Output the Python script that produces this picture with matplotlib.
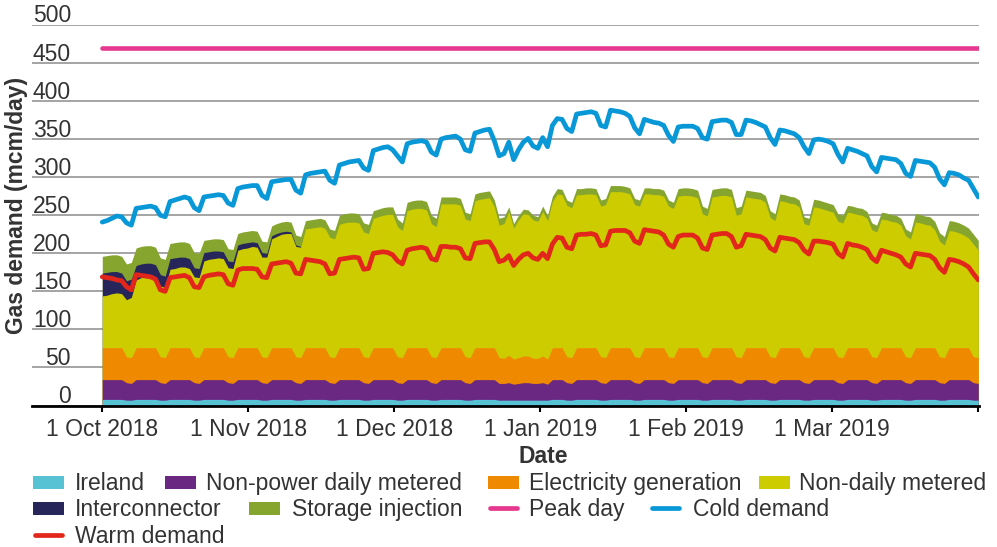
import numpy as np
import matplotlib
matplotlib.use("Agg")
import matplotlib.pyplot as plt
import matplotlib.transforms as mtransforms
from matplotlib.patches import Rectangle
from matplotlib.lines import Line2D

plt.rcParams['font.family'] = ['Liberation Sans', 'DejaVu Sans']

# ---------------- data (daily, 1 Oct 2018 - 31 Mar 2019, mcm/day) ----------------
month_labels = ['1 Oct 2018', '1 Nov 2018', '1 Dec 2018', '1 Jan 2019',
                '1 Feb 2019', '1 Mar 2019', '']
y_ticks = [0, 50, 100, 150, 200, 250, 300, 350, 400, 450, 500]

ireland = [
    8, 8, 8, 8, 8, 7, 7,
    8, 8, 8, 8, 8, 7, 7,
    8, 8, 8, 8, 8, 7, 7,
    8, 8, 8, 8, 8, 7, 7,
    8, 8, 8, 8, 8, 7, 7,
    8, 8, 8, 8, 8, 7, 7,
    8, 8, 8, 8, 8, 7, 7,
    8, 8, 8, 8, 8, 7, 7,
    8, 8, 8, 8, 8, 7, 7,
    8, 8, 8, 8, 8, 7, 7,
    8, 8, 8, 8, 8, 7, 7,
    8, 8, 8, 8, 8, 7, 7,
    7, 7, 7, 7, 7, 7, 7,
    7, 7, 8, 8, 8, 7, 7,
    8, 8, 8, 8, 8, 7, 7,
    8, 8, 8, 8, 8, 7, 7,
    8, 8, 8, 8, 8, 7, 7,
    8, 8, 8, 8, 8, 7, 7,
    8, 8, 8, 8, 8, 7, 7,
    8, 8, 8, 8, 8, 7, 7,
    8, 8, 8, 8, 8, 7, 7,
    8, 8, 8, 8, 8, 7, 7,
    8, 8, 8, 8, 8, 7, 7,
    8, 8, 8, 8, 8, 7, 7,
    8, 8, 8, 8, 8, 7, 7,
    8, 8, 8, 8, 8, 7, 7,
]

non_power_dm = [
    26, 26, 26, 26, 26, 23, 22,
    26, 26, 26, 26, 26, 23, 22,
    26, 26, 26, 26, 26, 23, 22,
    26, 26, 26, 26, 26, 23, 22,
    26, 26, 26, 26, 26, 23, 22,
    26, 26, 26, 26, 26, 23, 22,
    26, 26, 26, 26, 26, 23, 22,
    26, 26, 26, 26, 26, 23, 22,
    26, 26, 26, 26, 26, 23, 22,
    26, 26, 26, 26, 26, 23, 22,
    26, 26, 26, 26, 26, 23, 22,
    26, 26, 26, 26, 26, 22, 22,
    23, 21, 22, 23, 23, 22, 22,
    23, 21, 26, 26, 26, 23, 22,
    26, 26, 26, 26, 26, 23, 22,
    26, 26, 26, 26, 26, 23, 22,
    26, 26, 26, 26, 26, 23, 22,
    26, 26, 26, 26, 26, 23, 22,
    26, 26, 26, 26, 26, 23, 22,
    26, 26, 26, 26, 26, 23, 22,
    26, 26, 26, 26, 26, 23, 22,
    26, 26, 26, 26, 26, 23, 22,
    26, 26, 26, 26, 26, 23, 22,
    26, 26, 26, 26, 26, 23, 22,
    26, 26, 26, 26, 26, 23, 22,
    26, 26, 26, 26, 26, 23, 22,
]

electricity = [
    42, 42, 42, 42, 42, 34, 34,
    42, 42, 42, 42, 42, 34, 34,
    42, 42, 42, 42, 42, 34, 34,
    42, 42, 42, 42, 42, 34, 34,
    42, 42, 42, 42, 42, 34, 34,
    42, 42, 42, 42, 42, 34, 34,
    42, 42, 42, 42, 42, 34, 34,
    42, 42, 42, 42, 42, 34, 34,
    42, 42, 42, 42, 42, 34, 34,
    42, 42, 42, 42, 42, 34, 34,
    42, 42, 42, 42, 42, 34, 34,
    42, 42, 42, 42, 42, 34, 33,
    36, 33, 34, 35, 35, 33, 33,
    35, 33, 42, 42, 42, 34, 34,
    42, 42, 42, 42, 42, 34, 34,
    42, 42, 42, 42, 42, 34, 34,
    42, 42, 42, 42, 42, 34, 34,
    42, 42, 42, 42, 42, 34, 34,
    42, 42, 42, 42, 42, 34, 34,
    42, 42, 42, 42, 42, 34, 34,
    42, 42, 42, 42, 42, 34, 34,
    42, 42, 42, 42, 42, 34, 34,
    42, 42, 42, 42, 42, 34, 34,
    42, 42, 42, 42, 42, 34, 34,
    42, 42, 42, 42, 42, 34, 34,
    42, 42, 42, 42, 42, 34, 34,
]

non_daily_metered = [
    68, 69, 71, 72, 71, 75, 79,
    89, 92, 94, 94, 93, 93, 92,
    103, 104, 106, 106, 104, 105, 105,
    114, 116, 117, 118, 117, 117, 117,
    128, 130, 131, 133, 132, 131, 132,
    143, 146, 149, 150, 150, 145, 145,
    156, 157, 158, 159, 157, 157, 156,
    162, 164, 165, 165, 164, 164, 163,
    170, 172, 174, 175, 175, 171, 167,
    180, 182, 183, 183, 181, 175, 172,
    189, 189, 189, 189, 187, 181, 180,
    193, 195, 196, 197, 185, 174, 177,
    189, 172, 181, 187, 186, 182, 180,
    190, 182, 192, 202, 201, 199, 197,
    201, 201, 202, 202, 201, 198, 201,
    205, 205, 205, 204, 202, 200, 199,
    202, 202, 201, 201, 199, 198, 196,
    199, 200, 200, 199, 197, 188, 186,
    198, 199, 200, 200, 198, 186, 189,
    198, 197, 196, 195, 191, 183, 180,
    193, 192, 190, 189, 185, 175, 174,
    185, 184, 182, 180, 178, 178, 177,
    178, 177, 175, 174, 170, 167, 165,
    169, 168, 166, 165, 161, 159, 156,
    165, 164, 162, 161, 155, 152, 148,
    154, 153, 151, 148, 144, 148, 141,
]

interconnector = [
    30, 30, 29, 28, 27, 25, 24,
    19, 18, 17, 17, 16, 15, 15,
    14, 14, 13, 13, 13, 12, 12,
    11, 10, 10, 9, 9, 9, 9,
    7, 7, 7, 6, 6, 6, 5,
    4, 4, 3, 3, 2, 2, 1,
    0, 0, 0, 0, 0, 0, 0,
    0, 0, 0, 0, 0, 0, 0,
    0, 0, 0, 0, 0, 0, 0,
    0, 0, 0, 0, 0, 0, 0,
    0, 0, 0, 0, 0, 0, 0,
    0, 0, 0, 0, 0, 0, 0,
    0, 0, 0, 0, 0, 0, 0,
    0, 0, 0, 0, 0, 0, 0,
    0, 0, 0, 0, 0, 0, 0,
    0, 0, 0, 0, 0, 0, 0,
    0, 0, 0, 0, 0, 0, 0,
    0, 0, 0, 0, 0, 0, 0,
    0, 0, 0, 0, 0, 0, 0,
    0, 0, 0, 0, 0, 0, 0,
    0, 0, 0, 0, 0, 0, 0,
    0, 0, 0, 0, 0, 0, 0,
    0, 0, 0, 0, 0, 0, 0,
    0, 0, 0, 0, 0, 0, 0,
    0, 0, 0, 0, 0, 0, 0,
    0, 0, 0, 0, 0, 0, 0,
]

storage_injection = [
    22, 22, 22, 22, 22, 22, 22,
    23, 23, 23, 23, 23, 22, 22,
    20, 20, 20, 20, 20, 20, 20,
    16, 16, 16, 16, 16, 16, 16,
    15, 15, 15, 15, 15, 15, 15,
    13, 13, 13, 13, 13, 13, 13,
    11, 11, 11, 11, 11, 11, 11,
    12, 12, 12, 12, 12, 12, 12,
    10, 10, 10, 10, 10, 10, 10,
    11, 11, 11, 11, 11, 11, 11,
    9, 9, 9, 9, 9, 9, 9,
    9, 9, 9, 9, 9, 9, 9,
    6, 6, 6, 6, 6, 6, 6,
    7, 7, 7, 7, 7, 7, 7,
    8, 8, 8, 8, 8, 8, 8,
    8, 8, 8, 8, 8, 8, 8,
    8, 8, 8, 8, 8, 8, 8,
    10, 10, 10, 10, 10, 10, 10,
    10, 10, 10, 10, 10, 10, 10,
    9, 9, 9, 9, 9, 9, 9,
    9, 9, 9, 9, 9, 9, 9,
    10, 10, 10, 10, 10, 10, 10,
    9, 9, 9, 9, 9, 9, 9,
    9, 9, 9, 9, 9, 9, 9,
    11, 11, 11, 11, 11, 11, 11,
    13, 13, 13, 13, 13, 13, 13,
]

peak_day = 470

cold_demand = [
    241, 243, 246, 249, 248, 240, 237,
    259, 260, 261, 262, 260, 250, 248,
    268, 270, 272, 274, 272, 260, 256,
    274, 275, 276, 277, 276, 266, 263,
    285, 287, 288, 289, 289, 276, 272,
    294, 295, 296, 297, 297, 283, 279,
    303, 305, 306, 307, 308, 296, 292,
    316, 318, 320, 321, 322, 312, 309,
    335, 337, 339, 340, 336, 328, 320,
    344, 346, 347, 348, 346, 333, 329,
    350, 352, 353, 354, 350, 336, 334,
    358, 360, 362, 363, 348, 328, 331,
    346, 323, 336, 346, 351, 341, 338,
    352, 340, 368, 377, 376, 364, 360,
    383, 384, 385, 386, 384, 368, 366,
    388, 387, 386, 384, 380, 365, 357,
    376, 374, 372, 371, 368, 355, 347,
    366, 367, 367, 367, 364, 352, 350,
    373, 374, 375, 375, 372, 356, 356,
    375, 374, 372, 369, 366, 352, 343,
    362, 361, 359, 357, 352, 340, 331,
    349, 350, 349, 347, 344, 330, 320,
    338, 336, 334, 331, 328, 314, 307,
    326, 325, 324, 323, 318, 305, 301,
    322, 321, 320, 319, 313, 298, 290,
    306, 305, 303, 299, 296, 285, 274,
]

warm_demand = [
    169, 168, 167, 165, 164, 156, 152,
    172, 171, 170, 169, 166, 152, 150,
    168, 169, 170, 171, 168, 156, 155,
    169, 171, 172, 173, 172, 160, 158,
    178, 180, 180, 180, 179, 169, 168,
    186, 187, 188, 189, 187, 174, 173,
    192, 191, 190, 189, 186, 173, 174,
    192, 193, 194, 195, 194, 179, 180,
    200, 201, 202, 201, 198, 190, 186,
    204, 206, 207, 208, 206, 193, 191,
    209, 209, 208, 208, 206, 194, 193,
    213, 214, 215, 215, 205, 189, 191,
    197, 184, 192, 198, 200, 194, 192,
    200, 193, 212, 221, 220, 208, 206,
    224, 225, 225, 226, 224, 210, 211,
    229, 230, 230, 230, 227, 216, 213,
    231, 230, 229, 228, 224, 212, 208,
    222, 224, 224, 224, 220, 207, 205,
    224, 225, 226, 226, 222, 208, 210,
    225, 224, 223, 222, 218, 207, 203,
    221, 220, 219, 218, 214, 204, 199,
    216, 216, 215, 214, 212, 200, 195,
    213, 211, 210, 208, 205, 194, 189,
    204, 202, 200, 198, 195, 186, 182,
    200, 199, 198, 197, 192, 181, 175,
    192, 191, 189, 186, 182, 173, 165,
]

# ---------------- styling ----------------
C_IRE = '#57c2d4'
C_NPDM = '#6a2882'
C_ELEC = '#ef8a00'
C_NDM = '#cccc00'
C_IC = '#27265a'
C_STOR = '#86a52f'
C_PEAK = '#e5388e'
C_COLD = '#0898d7'
C_WARM = '#e3261b'
TXT = '#333333'
FS = 16.5

W, H = 997, 547
fig = plt.figure(figsize=(W / 100, H / 100), dpi=100)
AX_L, AX_R, AX_T, AX_B = 32, 979, 25, 405.5
ax = fig.add_axes([AX_L / W, 1 - AX_B / H, (AX_R - AX_L) / W, (AX_B - AX_T) / H])

days = np.arange(len(cold_demand))
layers = [ireland, non_power_dm, electricity, non_daily_metered,
          interconnector, storage_injection]
colors = [C_IRE, C_NPDM, C_ELEC, C_NDM, C_IC, C_STOR]
cum = np.cumsum(np.array(layers, dtype=float), axis=0)
ic_arr = np.array(interconnector)
for i in reversed(range(len(layers))):
    kw = {}
    if i == 4:
        kw['where'] = ic_arr > 0
    ax.fill_between(days, 0, cum[i], color=colors[i], lw=0, zorder=2, **kw)

ax.plot([days[0], days[-1]], [peak_day, peak_day], color=C_PEAK, lw=3.3,
        solid_capstyle='round', zorder=4)
ax.plot(days, cold_demand, color=C_COLD, lw=3.4, solid_joinstyle='round',
        solid_capstyle='round', zorder=4)
ax.plot(days, warm_demand, color=C_WARM, lw=3.4, solid_joinstyle='round',
        solid_capstyle='round', zorder=4)

ax.set_xlim(-14.52, 181.15)
ax.set_ylim(0, 500)
ax.set_yticks(y_ticks)
ax.yaxis.grid(True, color='#8c8c8c', lw=1.1)
ax.set_axisbelow(True)
ax.tick_params(axis='y', length=0, labelleft=False)
for s in ['left', 'right', 'top']:
    ax.spines[s].set_visible(False)
ax.spines['bottom'].set_color('black')
ax.spines['bottom'].set_linewidth(2.0)
ax.spines['bottom'].set_zorder(5)

ax.set_xticks(np.linspace(days[0], days[-1], len(month_labels)))
ax.set_xticklabels(month_labels)
ax.tick_params(axis='x', length=4.5, width=1.5, color='black', pad=4.5,
               labelsize=FS, labelcolor=TXT)

trans = mtransforms.blended_transform_factory(ax.transAxes, ax.transData) + \
    mtransforms.ScaledTranslation(0, 2.5 / 100, fig.dpi_scale_trans)
for v in y_ticks:
    ax.text((71 - AX_L) / (AX_R - AX_L), v, str(v), transform=trans, ha='right',
            va='baseline', fontsize=FS, color=TXT)

fig.text(543 / W, 1 - 463 / H, 'Date', ha='center', va='baseline',
         fontsize=FS, fontweight='bold', color=TXT)
fig.text(17 / W, 1 - 205 / H, 'Gas demand (mcm/day)', ha='center', va='center',
         rotation=90, fontsize=FS, fontweight='bold', color=TXT)

# ---------------- legend (drawn in figure pixels) ----------------
def px(x, y):
    return x / W, 1 - y / H

legend_items = [
    ('patch', C_IRE, 'Ireland', 33, 75, 1),
    ('patch', C_NPDM, 'Non-power daily metered', 165, 206, 1),
    ('patch', C_ELEC, 'Electricity generation', 488, 529, 1),
    ('patch', C_NDM, 'Non-daily metered', 759, 799, 1),
    ('patch', C_IC, 'Interconnector', 33, 75, 2),
    ('patch', C_STOR, 'Storage injection', 249, 292, 2),
    ('line', C_PEAK, 'Peak day', 488, 529, 2),
    ('line', C_COLD, 'Cold demand', 650, 693, 2),
    ('line', C_WARM, 'Warm demand', 33, 75, 3),
]
row_base = {1: 490, 2: 516, 3: 543}
for kind, col, label, hx, tx, row in legend_items:
    base = row_base[row]
    cy = base - 8
    if kind == 'patch':
        x0, y0 = px(hx, cy + 6.5)
        fig.patches.append(Rectangle((x0, y0), 31 / W, 13 / H, color=col,
                                     transform=fig.transFigure, lw=0))
    else:
        xa, ya = px(hx + 2, cy)
        xb, _ = px(hx + 29, cy)
        fig.lines.append(Line2D([xa, xb], [ya, ya], color=col, lw=3.4,
                                solid_capstyle='round', transform=fig.transFigure))
    tx_, ty_ = px(tx, base)
    fig.text(tx_, ty_, label, ha='left', va='baseline', fontsize=FS, color=TXT)

fig.savefig('out.png', dpi=100)
